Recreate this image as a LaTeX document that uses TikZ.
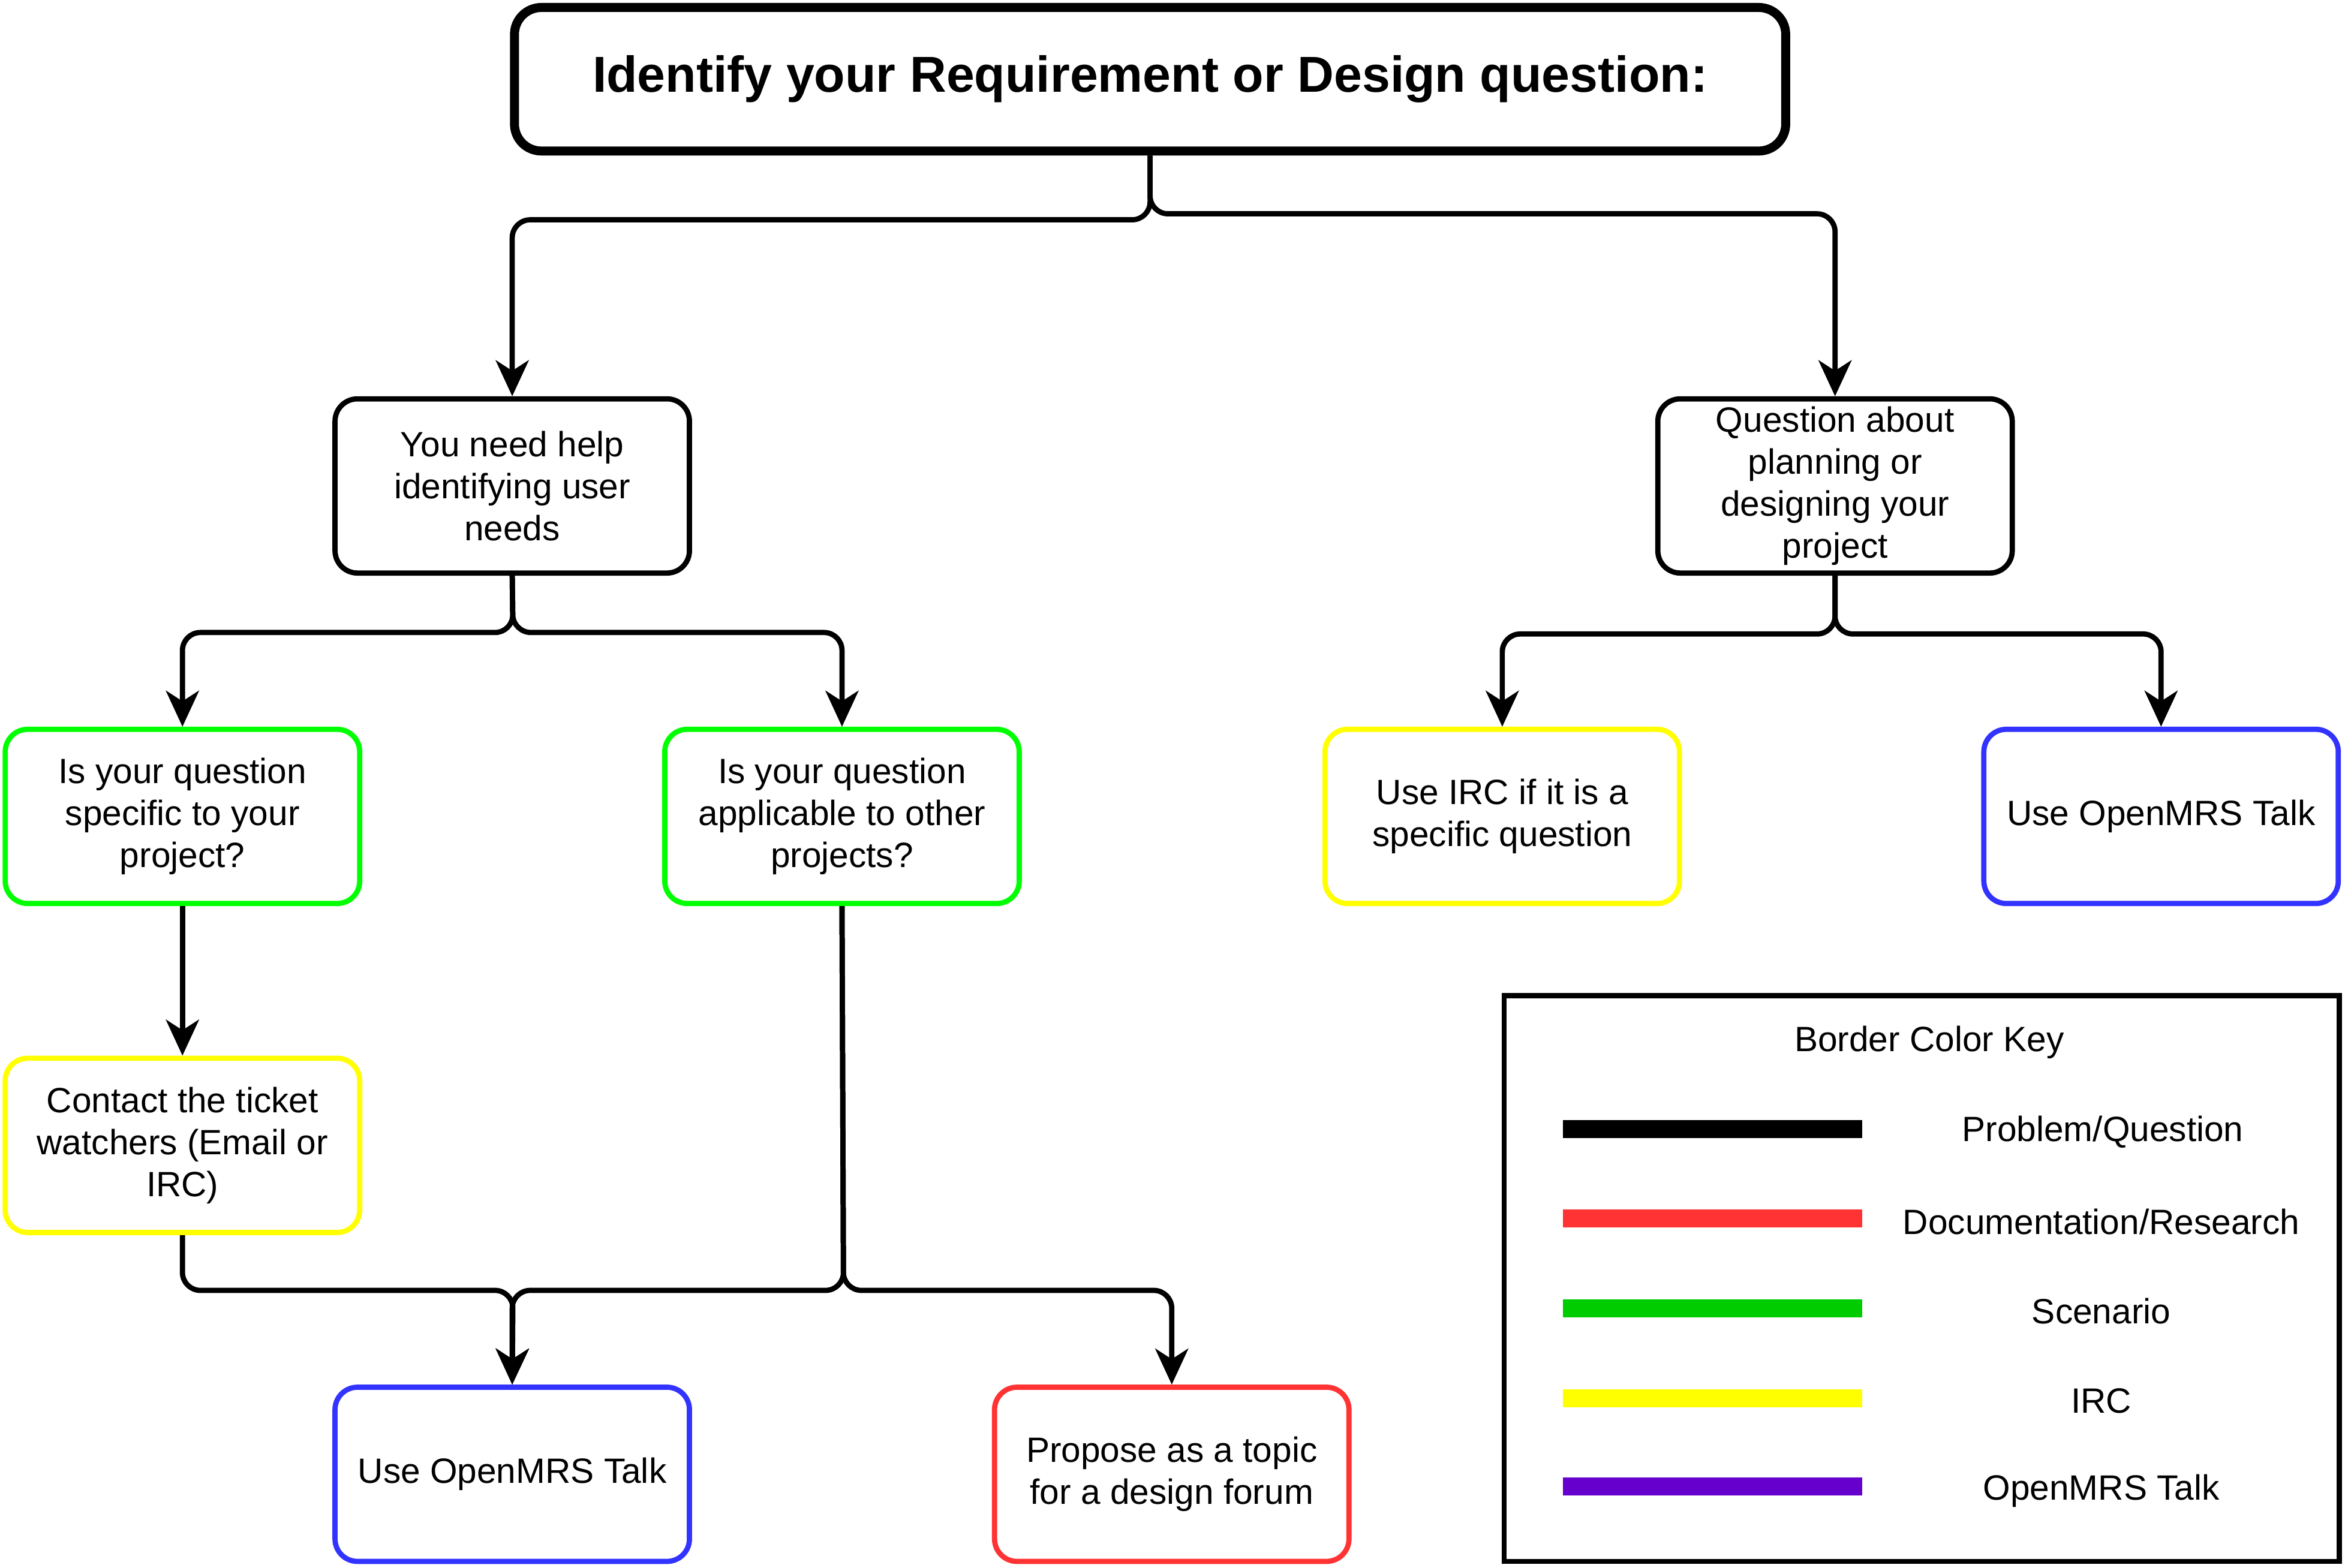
\documentclass[tikz,border=0pt]{standalone}
\usepackage{fontspec}
\setmainfont{Liberation Sans}
\usetikzlibrary{arrows.meta}
\definecolor{bgreen}{HTML}{00FF00}
\definecolor{byellow}{HTML}{FFFF00}
\definecolor{bblue}{HTML}{3333FF}
\definecolor{bred}{HTML}{FF3333}
\definecolor{kgreen}{HTML}{00CC00}
\definecolor{kpurple}{HTML}{6600CC}
\begin{document}
\begin{tikzpicture}[x=1pt,y=-1pt,
  box/.style={draw, rounded corners=15pt, line width=3.5pt, minimum width=237pt, minimum height=116.5pt, align=center, font=\fontsize{23.5}{28}\selectfont, inner sep=0pt, fill=white},
  conn/.style={line width=3.5pt, rounded corners=12pt, -{Stealth[length=24pt,width=22pt,inset=7pt]}},
  keytext/.style={font=\fontsize{23.5}{28}\selectfont, inner sep=0pt},
  keybar/.style={line width=12pt},
]
\useasboundingbox (0,0) rectangle (1568,1048.67);

% nodes
\node[draw, line width=6pt, rounded corners=18pt, minimum width=850pt, minimum height=96pt, inner sep=0pt, font=\bfseries\fontsize{33.8}{40}\selectfont] (top) at (769,53) {Identify your Requirement or Design question:};

\node[box, draw=black] (need) at (342.5,325) {You need help\\identifying user\\needs};
\node[box, draw=black] (plan) at (1227,325) {Question about\\planning or\\designing your\\project};
\node[box, draw=bgreen] (spec) at (122,546) {Is your question\\specific to your\\project?};
\node[box, draw=bgreen] (appl) at (563,546) {Is your question\\applicable to other\\projects?};
\node[box, draw=byellow] (ircq) at (1004.5,546) {Use IRC if it is a\\specific question};
\node[box, draw=bblue] (talka) at (1445,546) {Use OpenMRS Talk};
\node[box, draw=byellow] (contact) at (122,766) {Contact the ticket\\watchers (Email or\\IRC)};
\node[box, draw=bblue] (talkb) at (342.5,986) {Use OpenMRS Talk};
\node[box, draw=bred] (propose) at (783.5,986) {Propose as a topic\\for a design forum};

% junction coordinates
\coordinate (jl) at (769,147);
\coordinate (jr) at (769,143);
\coordinate (n1) at (343,423);
\coordinate (p1) at (1227,424);
\coordinate (b1) at (343,863);
\coordinate (a1) at (564,863);

% connectors
\draw[conn] (top.south) -- (jl) -| (need.north);
\draw[conn] (top.south) -- (jr) -| (plan.north);
\draw[conn] (need.south) -- (n1) -| (spec.north);
\draw[conn] (need.south) -- (n1) -| (appl.north);
\draw[conn] (plan.south) -- (p1) -| (ircq.north);
\draw[conn] (plan.south) -- (p1) -| (talka.north);
\draw[conn] (spec.south) -- (contact.north);
\draw[conn] (contact.south) |- (b1) -- (talkb.north);
\draw[conn] (appl.south) -- (a1) -| (talkb.north);
\draw[conn] (appl.south) -- (a1) -| (propose.north);

% legend
\node[draw, line width=3.5pt, minimum width=558.5pt, minimum height=378.5pt, inner sep=0pt] (key) at (1285,855) {};
\node[keytext] (keytitle) at (1290,697) {Border Color Key};
\draw[keybar, black] (1045,755) -- (1245,755);
\draw[keybar, bred] (1045,815) -- (1245,815);
\draw[keybar, kgreen] (1045,875) -- (1245,875);
\draw[keybar, byellow] (1045,935) -- (1245,935);
\draw[keybar, kpurple] (1045,994) -- (1245,994);
\node[keytext] (k1) at (1406,757) {Problem/Question};
\node[keytext] (k2) at (1405,817) {Documentation/Research};
\node[keytext] (k3) at (1405,877) {Scenario};
\node[keytext] (k4) at (1405,937) {IRC};
\node[keytext] (k5) at (1405,997) {OpenMRS Talk};
\end{tikzpicture}
\end{document}
